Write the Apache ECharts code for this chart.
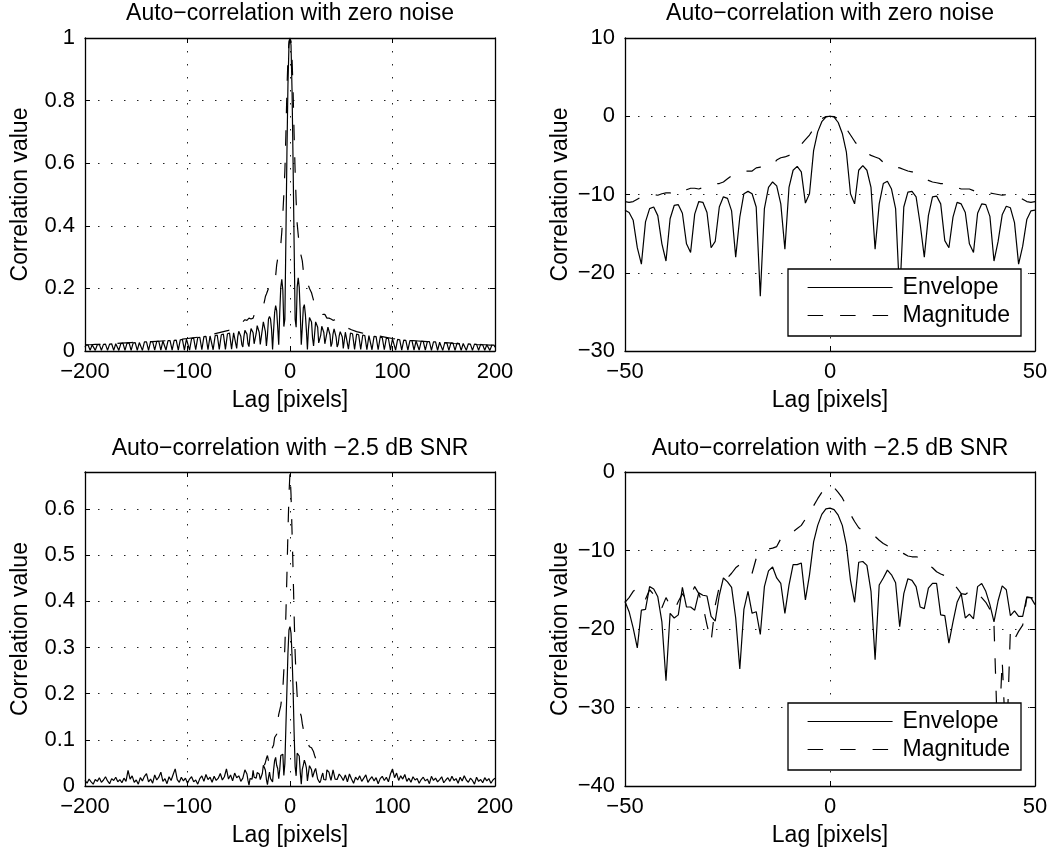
<!DOCTYPE html>
<html>
<head>
<meta charset="utf-8">
<script src="https://cdn.jsdelivr.net/npm/echarts/dist/echarts.min.js"></script>
<style>html,body{margin:0;padding:0;background:#fff}#chart{width:1054px;height:860px}</style>
</head>
<body>
<div id="chart"></div>
<script>
// ---------------- data ----------------
const titles = ['Auto\u2212correlation with zero noise', 'Auto\u2212correlation with zero noise',
                'Auto\u2212correlation with \u22122.5 dB SNR', 'Auto\u2212correlation with \u22122.5 dB SNR'];
const xLabel = 'Lag [pixels]';
const yLabel = 'Correlation value';
const seriesNames = ['Envelope', 'Magnitude'];

// integer lags for the central region
const nearLags = [-50,-49,-48,-47,-46,-45,-44,-43,-42,-41,-40,-39,-38,-37,-36,-35,-34,-33,-32,-31,
  -30,-29,-28,-27,-26,-25,-24,-23,-22,-21,-20,-19,-18,-17,-16,-15,-14,-13,-12,-11,
  -10,-9,-8,-7,-6,-5,-4,-3,-2,-1,0,1,2,3,4,5,6,7,8,9,10,11,12,13,14,15,16,17,18,19,20,
  21,22,23,24,25,26,27,28,29,30,31,32,33,34,35,36,37,38,39,40,41,42,43,44,45,46,47,48,49,50];

// top-right: zero noise, dB
const trEnvelope = [
  -12.0,-12.3,-13.3,-16.8,-18.9,-13.5,-11.8,-11.6,-12.7,-16.3,
  -18.5,-13.1,-11.4,-11.3,-12.4,-16.3,-17.4,-12.5,-10.9,-11.0,
  -12.3,-16.8,-16.0,-11.6,-10.3,-10.5,-12.1,-18.0,-12.9,-9.9,
  -9.6,-9.9,-11.6,-23.0,-11.8,-9.1,-8.4,-8.9,-11.2,-17.0,
  -9.1,-6.9,-6.4,-7.1,-11.1,-9.9,-4.4,-2.0,-0.7,-0.1,
  0.0,
  -0.1,-0.8,-2.2,-4.6,-9.9,-11.2,-6.9,-6.3,-6.9,-9.1,
  -17.0,-11.2,-8.6,-8.3,-9.3,-11.8,-23.0,-11.6,-9.7,-9.6,
  -10.3,-13.8,-18.0,-12.7,-10.3,-10.2,-11.2,-15.9,-16.8,-12.9,
  -11.0,-11.2,-12.3,-16.3,-17.4,-12.4,-11.2,-11.3,-12.8,-18.5,
  -16.0,-12.6,-11.5,-11.7,-13.6,-18.9,-16.6,-13.2,-12.1,-12.0];
const trMagnitude = [
  -10.9,-11.0,-10.9,-10.6,-10.3,-10.1,-10.0,-10.0,-10.1,-9.9,
  -9.8,-9.8,-9.9,-10.0,-9.8,-9.4,-9.2,-9.2,-9.3,-9.1,
  -8.9,-8.6,-8.6,-8.6,-8.4,-8.0,-7.6,-7.4,-7.2,-7.0,
  -7.0,-7.0,-6.6,-6.5,-6.5,-6.5,-6.2,-5.6,-5.3,-5.2,
  -5.0,-4.7,-4.2,-3.6,-3.0,-2.4,-1.6,-0.8,-0.3,-0.05,
  0.0,
  -0.05,-0.3,-0.8,-1.6,-2.4,-3.2,-3.9,-4.3,-4.7,-5.0,
  -5.2,-5.4,-5.9,-6.3,-6.4,-6.5,-6.6,-6.8,-7.0,-7.1,
  -7.3,-7.6,-7.9,-8.2,-8.4,-8.5,-8.6,-8.6,-8.7,-8.9,
  -9.1,-9.3,-9.3,-9.3,-9.5,-9.8,-9.8,-9.8,-9.8,-9.9,
  -10.0,-10.1,-10.0,-10.0,-10.1,-10.3,-10.6,-10.9,-11.0,-10.9];

// bottom-right: -2.5 dB SNR, dB
const brEnvelope = [
  -16.5,-17.8,-19.9,-22.4,-17.6,-17.5,-14.6,-14.9,-15.9,-19.1,
  -26.6,-18.0,-18.6,-18.2,-14.7,-17.2,-17.2,-17.6,-15.4,-15.7,
  -15.8,-18.4,-19.0,-15.7,-13.5,-14.0,-14.7,-18.6,-25.1,-17.5,
  -15.2,-18.0,-17.8,-20.7,-14.6,-12.6,-12.1,-13.5,-14.2,-18.0,
  -14.4,-11.8,-11.8,-11.6,-16.3,-13.1,-8.9,-6.8,-5.4,-4.7,
  -4.6,
  -4.8,-5.5,-6.8,-9.3,-13.8,-16.6,-11.5,-11.4,-11.9,-15.2,
  -23.9,-14.4,-13.5,-12.5,-13.1,-14.1,-19.7,-15.5,-13.6,-13.8,
  -14.6,-17.2,-17.4,-14.8,-14.2,-14.2,-18.2,-18.3,-21.8,-19.1,
  -16.6,-15.5,-18.6,-18.1,-18.7,-14.6,-14.2,-15.2,-16.9,-19.1,
  -16.4,-14.5,-15.0,-18.3,-17.7,-18.4,-18.4,-15.9,-16.0,-16.9];
const brMagnitude = [
  -16.6,-16.0,-15.2,-14.8,-15.5,-16.2,-15.0,-15.6,-16.9,-17.3,
  -16.0,-17.0,-17.6,-16.5,-15.5,-16.3,-15.7,-14.6,-15.5,-17.0,
  -19.5,-21.6,-17.0,-14.6,-14.0,-13.5,-12.9,-12.2,-11.8,-12.6,
  -12.9,-12.9,-11.0,-10.8,-10.5,-9.8,-9.7,-9.5,-8.5,-8.1,
  -8.0,-7.6,-7.2,-6.8,-6.0,-5.2,-4.3,-3.4,-2.6,-2.0,
  -1.7,
  -2.0,-2.6,-3.3,-4.3,-5.4,-6.3,-7.1,-7.5,-7.8,-8.0,
  -8.2,-8.7,-9.1,-9.4,-9.6,-9.9,-10.2,-10.4,-10.7,-10.8,
  -10.8,-10.9,-11.3,-11.8,-12.2,-12.7,-13.0,-13.2,-13.5,-14.2,
  -14.8,-15.5,-15.6,-15.2,-15.0,-15.5,-16.0,-16.6,-17.5,-19.5,
  -36.0,-24.0,-36.0,-20.1,-21.3,-20.3,-19.5,-16.0,-16.0,-16.1];

// top-left: zero noise, linear
const tlEnvelopeLeft = [
  [-200,0.012],[-199,0.019],[-197,0.019],[-195,0.002],[-193,0.020],[-192,0.020],[-190,0.002],
  [-188,0.020],[-186,0.021],[-184,0.002],[-182,0.021],[-180,0.022],[-178,0.002],[-176,0.022],
  [-174,0.023],[-172,0.002],[-170,0.023],[-169,0.024],[-167,0.002],[-165,0.024],[-163,0.025],
  [-161,0.002],[-159,0.025],[-157,0.026],[-155,0.002],[-153,0.026],[-151,0.027],[-149,0.002],
  [-147,0.027],[-146,0.028],[-144,0.002],[-142,0.029],[-140,0.029],[-138,0.002],[-136,0.030],
  [-134,0.030],[-132,0.003],[-130,0.031],[-128,0.031],[-126,0.003],[-124,0.032],[-123,0.032],
  [-121,0.003],[-119,0.033],[-117,0.033],[-115,0.003],[-113,0.034],[-111,0.035],[-109,0.003],
  [-107,0.036],[-105,0.037],[-103,0.003],[-101,0.038],[-100,0.039],[-98,0.003],[-96,0.040],
  [-94,0.041],[-92,0.004],[-90,0.043],[-88,0.044],[-86,0.004],[-84,0.046],[-82,0.047],
  [-80,0.004],[-78,0.048],[-77,0.049],[-75,0.004],[-73,0.049],[-71,0.051],[-69,0.005],
  [-67,0.052],[-65,0.054],[-63,0.005],[-61,0.055],[-59,0.057],[-57,0.006],[-55,0.058],
  [-54,0.060],[-52,0.008],[-51,0.045]];
const tlEnvelopeCenter = [
  0.063,0.059,0.047,0.021,0.013,0.045,0.066,0.069,0.054,0.023,
  0.014,0.049,0.072,0.074,0.058,0.023,0.018,0.056,0.081,0.079,
  0.059,0.021,0.025,0.069,0.093,0.089,0.062,0.016,0.051,0.102,
  0.110,0.102,0.069,0.005,0.066,0.123,0.145,0.129,0.076,0.020,
  0.123,0.204,0.229,0.195,0.078,0.102,0.363,0.631,0.851,0.977,
  1.000,
  0.977,0.832,0.603,0.347,0.102,0.076,0.204,0.234,0.204,0.123,
  0.020,0.076,0.138,0.148,0.117,0.066,0.005,0.069,0.107,0.110,
  0.093,0.042,0.016,0.054,0.093,0.095,0.076,0.026,0.021,0.051,
  0.079,0.076,0.059,0.023,0.018,0.058,0.076,0.074,0.052,0.014,
  0.025,0.055,0.071,0.068,0.044,0.013,0.022,0.048,0.062,0.063];
const tlEnvelopeRight = [
  [51,0.045],[52,0.008],[54,0.060],[55,0.058],[57,0.006],[59,0.057],[61,0.055],[63,0.005],
  [65,0.054],[67,0.052],[69,0.005],[71,0.051],[73,0.049],[75,0.004],[77,0.049],[78,0.048],
  [80,0.004],[82,0.047],[84,0.046],[86,0.004],[88,0.044],[90,0.043],[92,0.004],[94,0.041],
  [96,0.040],[98,0.003],[100,0.039],[101,0.038],[103,0.003],[105,0.037],[107,0.036],[109,0.003],
  [111,0.035],[113,0.034],[115,0.003],[117,0.033],[119,0.033],[121,0.003],[123,0.032],[124,0.032],
  [126,0.003],[128,0.031],[130,0.031],[132,0.003],[134,0.030],[136,0.030],[138,0.002],[140,0.029],
  [142,0.029],[144,0.002],[146,0.028],[147,0.027],[149,0.002],[151,0.027],[153,0.026],[155,0.002],
  [157,0.026],[159,0.025],[161,0.002],[163,0.025],[165,0.024],[167,0.002],[169,0.024],[170,0.023],
  [172,0.002],[174,0.023],[176,0.022],[178,0.002],[180,0.022],[182,0.021],[184,0.002],[186,0.021],
  [188,0.020],[190,0.002],[192,0.020],[193,0.020],[195,0.002],[197,0.019],[199,0.019],[200,0.012]];
const tlMagnitudeLeft = [
  [-200,0.020],[-195,0.020],[-190,0.021],[-185,0.021],[-180,0.022],[-175,0.023],[-170,0.024],
  [-165,0.025],[-160,0.026],[-155,0.027],[-150,0.028],[-145,0.028],[-140,0.029],[-135,0.030],
  [-130,0.031],[-125,0.032],[-120,0.033],[-115,0.034],[-110,0.036],[-105,0.038],[-100,0.040],
  [-95,0.042],[-90,0.044],[-85,0.047],[-80,0.050],[-75,0.054],[-70,0.058],[-65,0.062],
  [-60,0.066],[-55,0.072]];
const tlMagnitudeCenter = [
  0.081,0.079,0.081,0.087,0.093,0.098,0.100,0.100,0.098,0.102,
  0.105,0.105,0.102,0.100,0.105,0.115,0.120,0.120,0.117,0.123,
  0.129,0.138,0.138,0.138,0.145,0.158,0.174,0.182,0.191,0.200,
  0.200,0.200,0.219,0.224,0.224,0.224,0.240,0.275,0.295,0.302,
  0.316,0.339,0.380,0.437,0.501,0.575,0.692,0.832,0.933,0.989,
  1.000,
  0.989,0.933,0.832,0.692,0.575,0.479,0.407,0.372,0.339,0.316,
  0.302,0.288,0.257,0.234,0.229,0.224,0.219,0.209,0.200,0.195,
  0.186,0.174,0.162,0.151,0.145,0.141,0.138,0.138,0.135,0.129,
  0.123,0.117,0.117,0.117,0.112,0.105,0.105,0.105,0.105,0.102,
  0.100,0.098,0.100,0.100,0.098,0.093,0.087,0.081,0.079,0.081];
const tlMagnitudeRight = [
  [55,0.075],[60,0.068],[65,0.062],[70,0.058],[75,0.055],[80,0.052],[85,0.049],[90,0.046],
  [95,0.043],[100,0.040],[105,0.038],[110,0.036],[115,0.034],[120,0.033],[125,0.032],[130,0.031],
  [135,0.030],[140,0.030],[145,0.028],[150,0.027],[155,0.026],[160,0.024],[165,0.023],[170,0.021],
  [175,0.021],[180,0.020],[185,0.020],[190,0.020],[195,0.019],[200,0.019]];

// bottom-left: -2.5 dB SNR, linear
const blEnvelopeLeft = [
  [-200,0.012],[-198,0.006],[-196,0.015],[-194,0.009],[-192,0.004],[-190,0.014],[-188,0.010],[-186,0.018],
  [-184,0.008],[-182,0.013],[-180,0.020],[-178,0.011],[-176,0.005],[-174,0.016],[-172,0.012],[-170,0.019],
  [-168,0.009],[-166,0.014],[-164,0.007],[-162,0.017],[-160,0.010],[-158,0.034],[-156,0.015],[-154,0.022],
  [-152,0.008],[-150,0.013],[-148,0.004],[-146,0.018],[-144,0.011],[-142,0.021],[-140,0.027],[-138,0.009],
  [-136,0.015],[-134,0.006],[-132,0.024],[-130,0.013],[-128,0.019],[-126,0.030],[-124,0.010],[-122,0.016],
  [-120,0.005],[-118,0.020],[-116,0.012],[-114,0.025],[-112,0.037],[-110,0.014],[-108,0.008],[-106,0.019],
  [-104,0.011],[-102,0.017],[-100,0.006],[-98,0.015],[-96,0.020],[-94,0.009],[-92,0.013],[-90,0.004],
  [-88,0.016],[-86,0.022],[-84,0.010],[-82,0.025],[-80,0.014],[-78,0.019],[-76,0.008],[-74,0.021],
  [-72,0.012],[-70,0.017],[-68,0.027],[-66,0.013],[-64,0.020],[-62,0.037],[-60,0.015],[-58,0.024],
  [-56,0.011],[-54,0.028],[-52,0.018]];
const blEnvelopeCenter = [
  0.022,0.017,0.010,0.006,0.017,0.018,0.035,0.032,0.026,0.012,
  0.002,0.016,0.014,0.015,0.034,0.019,0.019,0.017,0.029,0.027,
  0.026,0.014,0.013,0.027,0.045,0.040,0.034,0.014,0.003,0.018,
  0.030,0.016,0.017,0.009,0.035,0.055,0.062,0.045,0.038,0.016,
  0.036,0.066,0.066,0.069,0.023,0.049,0.129,0.209,0.288,0.338,
  0.345,
  0.331,0.282,0.211,0.117,0.042,0.022,0.071,0.072,0.065,0.030,
  0.004,0.036,0.045,0.056,0.049,0.039,0.011,0.028,0.044,0.042,
  0.035,0.019,0.018,0.033,0.038,0.038,0.015,0.015,0.007,0.012,
  0.022,0.028,0.014,0.015,0.013,0.035,0.038,0.030,0.020,0.012,
  0.023,0.035,0.032,0.015,0.017,0.014,0.014,0.026,0.025,0.020];
const blEnvelopeRight = [
  [52,0.012],[54,0.024],[56,0.009],[58,0.026],[60,0.015],[62,0.006],[64,0.019],[66,0.013],
  [68,0.022],[70,0.010],[72,0.017],[74,0.024],[76,0.008],[78,0.015],[80,0.020],[82,0.011],
  [84,0.018],[86,0.005],[88,0.016],[90,0.021],[92,0.012],[94,0.019],[96,0.009],[98,0.026],
  [100,0.037],[102,0.018],[104,0.028],[106,0.012],[108,0.022],[110,0.015],[112,0.025],[114,0.010],
  [116,0.017],[118,0.008],[120,0.020],[122,0.013],[124,0.016],[126,0.006],[128,0.014],[130,0.019],
  [132,0.011],[134,0.015],[136,0.005],[138,0.021],[140,0.012],[142,0.017],[144,0.009],[146,0.014],
  [148,0.020],[150,0.007],[152,0.013],[154,0.018],[156,0.010],[158,0.021],[160,0.012],[162,0.016],
  [164,0.006],[166,0.019],[168,0.011],[170,0.022],[172,0.013],[174,0.008],[176,0.017],[178,0.012],
  [180,0.004],[182,0.019],[184,0.010],[186,0.014],[188,0.007],[190,0.018],[192,0.011],[194,0.016],
  [196,0.006],[198,0.013],[200,0.017]];
const blMagnitudeLags = [-25,-24,-23,-22,-21,-20,-19,-18,-17,-16,-15,-14,-13,-12,-11,-10,-9,-8,-7,-6,
  -5,-4,-3,-2,-1,0,1,2,3,4,5,6,7,8,9,10,11,12,13,14,15,16,17,18,19,20,21,22,23,24,25];
const blMagnitude = [
  0.045,0.051,0.060,0.066,0.055,0.051,0.051,0.079,0.083,0.089,
  0.105,0.107,0.112,0.141,0.155,0.158,0.174,0.191,0.209,0.251,
  0.302,0.372,0.457,0.550,0.631,
  0.680,
  0.631,0.550,0.468,0.372,0.288,
  0.234,0.195,0.178,0.166,0.158,0.151,0.135,0.123,0.115,0.110,
  0.102,0.095,0.091,0.085,0.083,0.083,0.081,0.074,0.066,0.060];

// ---------------- chart ----------------
const FONT = '"Liberation Sans", Arial, Helvetica, sans-serif';
const zip = (xs, ys) => xs.map((x, i) => [x, ys[i]]);

const panels = [
  {grid: {left: 85, top: 38, width: 410, height: 313}, x: [-200, 200, 100], y: [0, 1, 0.2]},
  {grid: {left: 625, top: 38, width: 410, height: 313}, x: [-50, 50, 50], y: [-30, 10, 10]},
  {grid: {left: 85, top: 472, width: 410, height: 314}, x: [-200, 200, 100], y: [0, 0.68, 0.1]},
  {grid: {left: 625, top: 472, width: 410, height: 314}, x: [-50, 50, 50], y: [-40, 0, 10]}
];
const titlePos = [[290, 2], [830, 2], [290, 437], [830, 437]];

function fmt(v) {
  const s = String(parseFloat(Math.abs(v).toFixed(2)));
  return v < 0 ? '\u2212' + s : s;
}
const black = '#000';
const lineBase = {show: true, onZero: false, lineStyle: {color: black, width: 1.3}};
const tickBase = {show: true, inside: true, length: 5, lineStyle: {color: black, width: 1}};
const gridLine = {show: true, lineStyle: {color: '#222', width: 1, type: [1.5, 11.5]}};
const labelText = {color: black, fontSize: 22, fontFamily: FONT};
const nameText = {color: black, fontSize: 23, fontFamily: FONT};

const xAxes = [], yAxes = [];
panels.forEach((p, i) => {
  const xc = {type: 'value', gridIndex: i, min: p.x[0], max: p.x[1], interval: p.x[2]};
  const yc = {type: 'value', gridIndex: i, min: p.y[0], max: p.y[1], interval: p.y[2]};
  xAxes.push(Object.assign({}, xc, {
    position: 'bottom', axisLine: lineBase, axisTick: tickBase,
    axisLabel: Object.assign({margin: 10, formatter: fmt}, labelText),
    splitLine: gridLine, name: xLabel, nameLocation: 'middle', nameGap: 38, nameTextStyle: nameText
  }));
  xAxes.push(Object.assign({}, xc, {
    position: 'top', axisLine: lineBase, axisTick: tickBase, axisLabel: {show: false}, splitLine: {show: false}
  }));
  yAxes.push(Object.assign({}, yc, {
    position: 'left', axisLine: lineBase, axisTick: tickBase,
    axisLabel: Object.assign({margin: 10, formatter: fmt, showMaxLabel: i === 2 ? false : true}, labelText),
    splitLine: gridLine, name: yLabel, nameLocation: 'middle', nameGap: 53, nameTextStyle: nameText
  }));
  yAxes.push(Object.assign({}, yc, {
    position: 'right', axisLine: lineBase, axisTick: tickBase, axisLabel: {show: false}, splitLine: {show: false}
  }));
});

const solid = {color: black, width: 1.2, type: 'solid'};
const dashed = {color: black, width: 1.2, type: [15.5, 17]};
function mk(name, panel, data, style) {
  return {
    name: name, type: 'line', xAxisIndex: panel * 2, yAxisIndex: panel * 2, data: data,
    symbol: 'none', showSymbol: false, lineStyle: style, itemStyle: {color: black},
    animation: false, clip: true, silent: true, z: 3
  };
}
const series = [
  mk(seriesNames[0], 0, [].concat(tlEnvelopeLeft, zip(nearLags, tlEnvelopeCenter), tlEnvelopeRight), solid),
  mk(seriesNames[1], 0, [].concat(tlMagnitudeLeft, zip(nearLags, tlMagnitudeCenter), tlMagnitudeRight), dashed),
  mk(seriesNames[0], 1, zip(nearLags, trEnvelope), solid),
  mk(seriesNames[1], 1, zip(nearLags, trMagnitude), dashed),
  mk(seriesNames[0], 2, [].concat(blEnvelopeLeft, zip(nearLags, blEnvelopeCenter), blEnvelopeRight), solid),
  mk(seriesNames[1], 2, zip(blMagnitudeLags, blMagnitude), dashed),
  mk(seriesNames[0], 3, zip(nearLags, brEnvelope), solid),
  mk(seriesNames[1], 3, zip(nearLags, brMagnitude), dashed)
];

const legendBase = {
  show: true, orient: 'vertical', left: 788, data: seriesNames,
  itemWidth: 85, itemHeight: 23, itemGap: 5, padding: [7, 11, 9, 19],
  backgroundColor: '#fff', borderColor: black, borderWidth: 1.3, borderRadius: 0,
  textStyle: {color: black, fontSize: 23, fontFamily: FONT, padding: [0, 0, 0, 5]},
  lineStyle: {width: 1.2}, itemStyle: {opacity: 0}, selectedMode: false, z: 10
};

const option = {
  backgroundColor: '#fff',
  animation: false,
  textStyle: {fontFamily: FONT},
  title: titles.map((t, i) => ({
    text: t, left: titlePos[i][0], top: titlePos[i][1], textAlign: 'center', textVerticalAlign: 'top', padding: 0,
    textStyle: {color: black, fontSize: 23, fontWeight: 'normal', fontFamily: FONT}
  })),
  grid: panels.map(p => Object.assign({containLabel: false, outerBoundsMode: 'none'}, p.grid)),
  xAxis: xAxes,
  yAxis: yAxes,
  legend: [Object.assign({}, legendBase, {top: 269}), Object.assign({}, legendBase, {top: 703})],
  series: series
};

const chart = echarts.init(document.getElementById('chart'), null, {renderer: 'canvas'});
chart.setOption(option);
</script>
</body>
</html>
